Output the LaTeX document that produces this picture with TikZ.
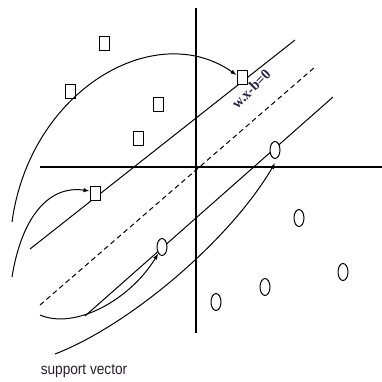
\documentclass[tikz,border=0pt]{standalone}
\usepackage{fontspec}
\setmainfont{Liberation Serif}
\newfontfamily\labfont{Liberation Sans}
\usetikzlibrary{shapes.geometric,arrows.meta}
\begin{document}
\begin{tikzpicture}[x=1pt,y=-1pt,
  axis/.style={line width=1.2pt},
  sline/.style={line width=1pt},
  dline/.style={line width=1pt,dash pattern=on 5pt off 3.5pt},
  curv/.style={line width=1pt,-{Latex[length=6pt,width=4.5pt]}},
  sq/.style={draw,line width=1pt,fill=white,minimum width=10pt,minimum height=14pt,inner sep=0pt},
  circ/.style={draw,ellipse,line width=1pt,fill=white,minimum width=10pt,minimum height=17pt,inner sep=0pt}]
\useasboundingbox (0,0) rectangle (382,381);
% axes
\coordinate (vt) at (196,8);
\coordinate (vb) at (196,333);
\coordinate (hl) at (40,167);
\coordinate (hr) at (382,167);
\draw[axis] (vt) -- (vb);
\draw[axis] (hl) -- (hr);
% margin lines
\coordinate (u1) at (30,249);
\coordinate (u2) at (295,40);
\coordinate (d1) at (40,305);
\coordinate (d2) at (315,67);
\coordinate (l1) at (85,316);
\coordinate (l2) at (333,97);
\draw[sline] (u1) -- (u2);
\draw[dline] (d1) -- (d2);
\draw[sline] (l1) -- (l2);
% squares
\node[sq] (s1) at (104,43) {};
\node[sq] (s2) at (70,91) {};
\node[sq] (s3) at (158,104) {};
\node[sq] (s4) at (138,138) {};
\node[sq] (s5) at (242,77) {};
\node[sq] (s6) at (95,193) {};
% circles
\node[circ] (c1) at (162,247) {};
\node[circ] (c2) at (275,150) {};
\node[circ] (c3) at (299,218) {};
\node[circ] (c4) at (265,287) {};
\node[circ] (c5) at (343,272) {};
\node[circ] (c6) at (216,302) {};
% curved arrows
\coordinate (a0) at (12,222);
\coordinate (b0) at (12,277);
\coordinate (cc0) at (40,315);
\coordinate (e0) at (55,354);
\draw[curv] (a0) .. controls (30,90) and (155,18) .. (s5.160);
\draw[curv] (b0) .. controls (22,215) and (50,185) .. (s6.160);
\draw[curv] (cc0) .. controls (75,330) and (130,300) .. (c1.240);
\draw[curv] (e0) .. controls (130,325) and (230,240) .. ([yshift=-4pt]c2.south);
% labels
\node[rotate=45,inner sep=0pt,font=\bfseries\fontsize{15}{16}\selectfont,text={rgb,255:red,35;green,35;blue,75}] (eq) at (251,89) {\scalebox{0.95}[1]{w.x-b=0}};
\node[inner sep=0pt,font=\labfont\fontsize{15.5}{16}\selectfont,text={rgb,255:red,40;green,30;blue,50}] (sv) at (84,371) {\scalebox{0.88}[1]{support vector}};
\end{tikzpicture}
\end{document}
